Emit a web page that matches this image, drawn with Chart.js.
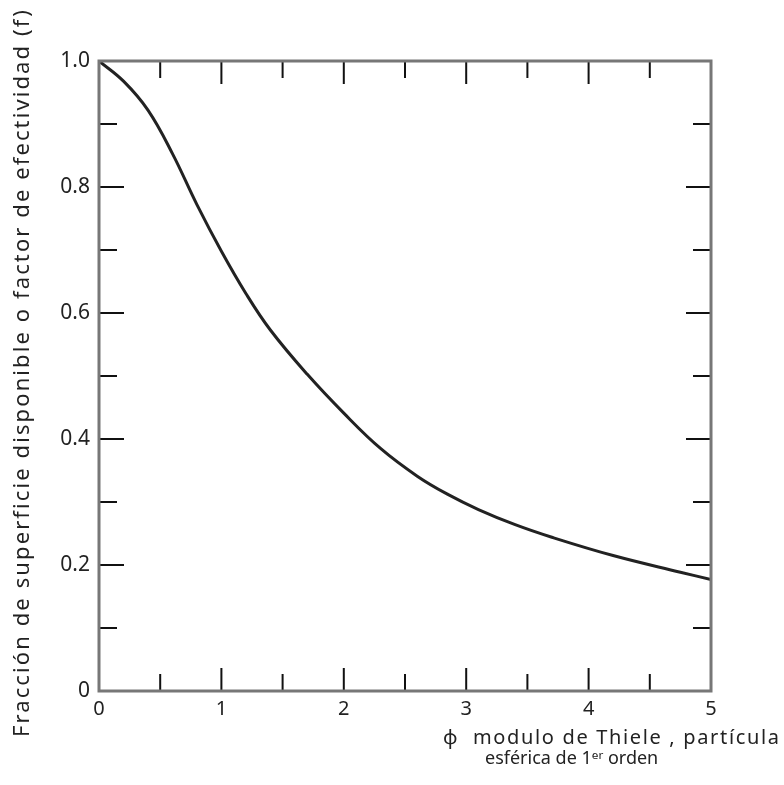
<!DOCTYPE html>
<html>
<head>
<meta charset="utf-8">
<script src="https://cdn.jsdelivr.net/npm/chart.js@4"></script>
<style>
  html, body { margin: 0; padding: 0; background: #fff; }
  #wrap { width: 784px; height: 785px; }
</style>
</head>
<body>
<div id="wrap"><canvas id="thieleChart" width="784" height="785"></canvas></div>
<script>
// valores
var phi = [0, 0.2, 0.4, 0.6, 0.8, 1.0, 1.2, 1.4, 1.7, 2.0, 2.3, 2.6, 2.85, 3.1, 3.4, 3.7, 4.2, 4.75, 5.0];
var eta = [1.0, 0.968, 0.922, 0.853, 0.772, 0.698, 0.631, 0.573, 0.503, 0.441, 0.385, 0.341, 0.312, 0.288, 0.264, 0.244, 0.215, 0.1885, 0.177];

var xTicks = [0, 1, 2, 3, 4, 5];
var yTicks = [0, 0.2, 0.4, 0.6, 0.8, 1.0];

var yTitle = 'Fracción de superficie disponible o factor de efectividad (f)';
var xTitle1 = 'ϕ  modulo de Thiele , partícula';
var xTitle2 = 'esférica de 1ᵉʳ orden';

var FONT = '"Noto Sans", "DejaVu Sans", sans-serif';

// escribe un texto estirado hasta un ancho dado
function fitText(ctx, txt, x, y, width) {
    ctx.letterSpacing = '0px';
    var w = ctx.measureText(txt).width;
    var n = Array.from(txt).length;
    var sp = Math.max(0, (width - w) / (n - 1));
    ctx.letterSpacing = sp.toFixed(2) + 'px';
    ctx.fillText(txt, x, y);
    ctx.letterSpacing = '0px';
}

// marco, marcas hacia adentro y titulos
var framePlugin = {
    id: 'frame',
    afterDraw: function(chart) {
        var ctx = chart.ctx;
        var a = chart.chartArea;
        var xs = chart.scales.x, ys = chart.scales.y;
        ctx.save();
        ctx.strokeStyle = '#111';
        ctx.lineWidth = 2;
        // marcas en x (cada 0.5)
        for (var i = 1; i < 10; i++) {
            var px = xs.getPixelForValue(i * 0.5);
            var len = (i % 2 === 0) ? 23 : 17;
            ctx.beginPath();
            ctx.moveTo(px, a.top); ctx.lineTo(px, a.top + len);
            ctx.moveTo(px, a.bottom); ctx.lineTo(px, a.bottom - len);
            ctx.stroke();
        }
        // marcas en y (cada 0.1)
        for (var j = 1; j < 10; j++) {
            var py = ys.getPixelForValue(j / 10);
            var l2 = (j % 2 === 0) ? 25 : 18;
            ctx.beginPath();
            ctx.moveTo(a.left, py); ctx.lineTo(a.left + l2, py);
            ctx.moveTo(a.right, py); ctx.lineTo(a.right - l2, py);
            ctx.stroke();
        }
        // marco
        ctx.strokeStyle = '#777';
        ctx.lineWidth = 3;
        ctx.strokeRect(a.left, a.top, a.right - a.left, a.bottom - a.top);

        // titulos
        ctx.fillStyle = '#222';
        ctx.font = '22px ' + FONT;
        ctx.textAlign = 'left';
        ctx.textBaseline = 'middle';
        ctx.save();
        ctx.translate(23, 737);
        ctx.rotate(-Math.PI / 2);
        fitText(ctx, yTitle, 0, 0, 727);
        ctx.restore();

        ctx.font = '20px ' + FONT;
        fitText(ctx, xTitle1, 443, 738, 336);
        ctx.font = '18px ' + FONT;
        fitText(ctx, xTitle2, 485, 759, 168);
        ctx.restore();
    }
};

new Chart(document.getElementById('thieleChart'), {
    type: 'line',
    data: {
        datasets: [{
            data: phi.map(function(p, i) { return { x: p, y: eta[i] }; }),
            borderColor: '#222',
            borderWidth: 3,
            pointRadius: 0,
            tension: 0.4,
            fill: false
        }]
    },
    options: {
        responsive: false,
        animation: false,
        layout: { padding: { top: 61, right: 73, left: 0, bottom: 0 } },
        plugins: { legend: { display: false }, tooltip: { enabled: false } },
        scales: {
            x: {
                type: 'linear',
                min: 0, max: 5,
                afterFit: function(s) { s.height = 94; },
                afterBuildTicks: function(s) { s.ticks = xTicks.map(function(v) { return { value: v }; }); },
                grid: { display: false, drawTicks: false },
                border: { display: false },
                ticks: {
                    padding: 6,
                    color: '#222',
                    font: { family: FONT, size: 20 },
                    callback: function(v) { return String(v); }
                }
            },
            y: {
                min: 0, max: 1,
                afterFit: function(s) { s.width = 99; },
                afterBuildTicks: function(s) { s.ticks = yTicks.map(function(v) { return { value: v }; }); },
                grid: { display: false, drawTicks: false },
                border: { display: false },
                ticks: {
                    padding: 9,
                    color: '#222',
                    font: { family: FONT, size: 21 },
                    callback: function(v) { return v === 0 ? '0' : v.toFixed(1); }
                }
            }
        }
    },
    plugins: [framePlugin]
});
</script>
</body>
</html>
